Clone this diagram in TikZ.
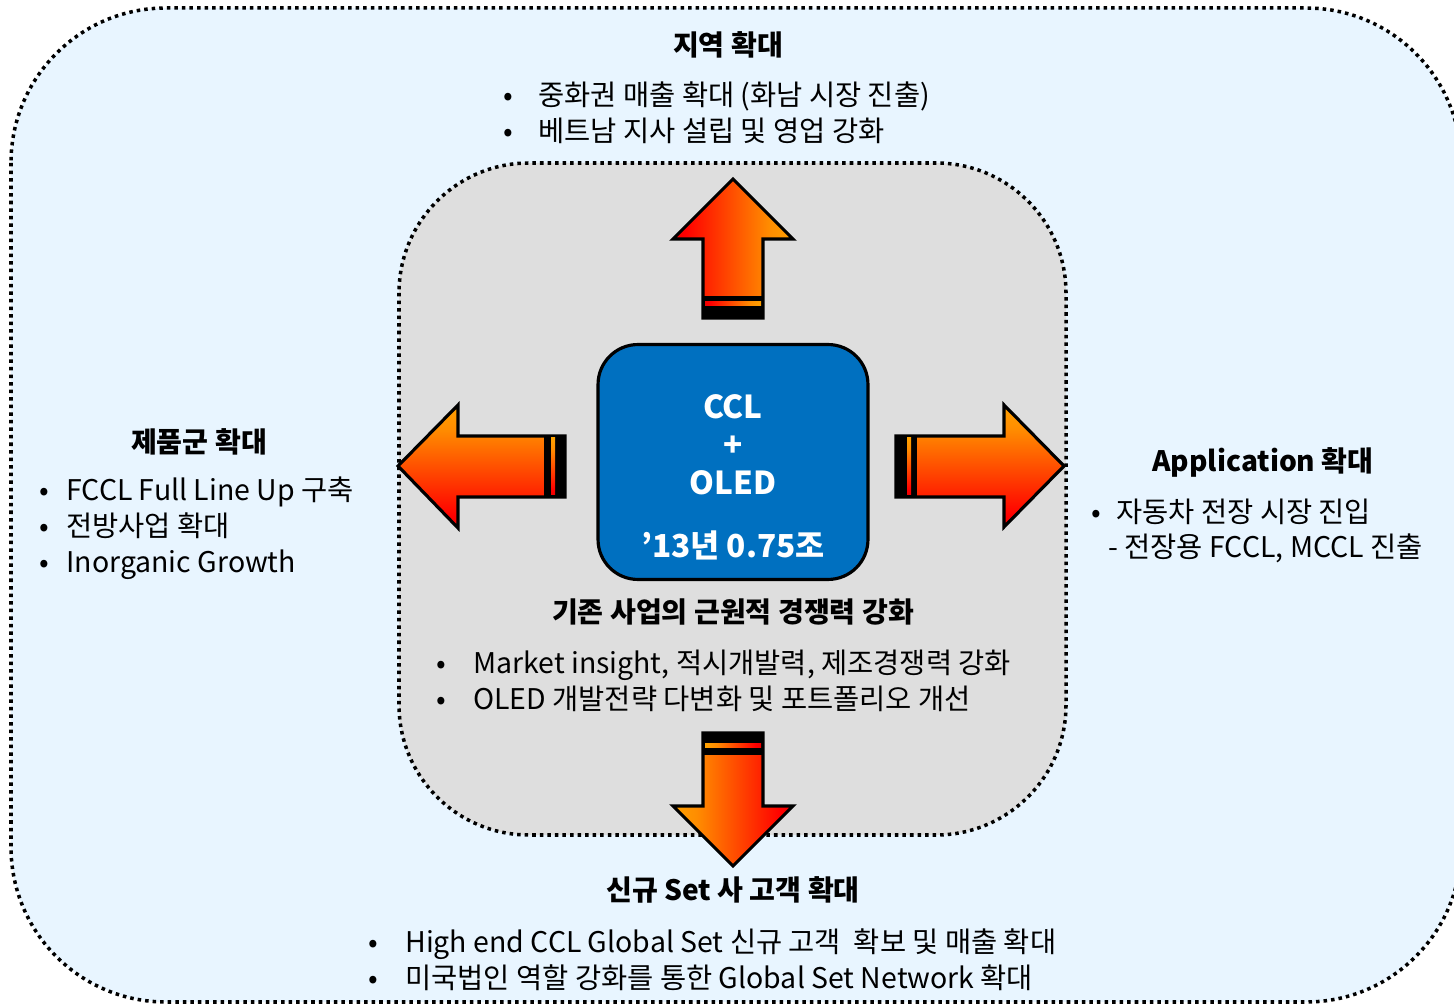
\documentclass[tikz,border=0pt]{standalone}
\usepackage{fontspec}
\setmainfont{Noto Sans CJK KR}
\usetikzlibrary{positioning}

\definecolor{outerfill}{HTML}{E8F5FF}
\definecolor{innerfill}{HTML}{DEDEDE}
\definecolor{coreblue}{HTML}{0070C0}
\definecolor{firedark}{HTML}{990000}
\definecolor{firered}{HTML}{FF0000}
\definecolor{fireorange}{HTML}{FF8C00}
\definecolor{fireyellow}{HTML}{FFD700}
\pgfdeclarehorizontalshading{fire}{100bp}{color(0bp)=(firedark); color(30bp)=(firered); color(65bp)=(fireorange); color(100bp)=(fireyellow)}

\newcommand{\itemline}[2]{\makebox[#1][l]{•}#2}

\begin{document}
\begin{tikzpicture} [
    x=0.02cm, y=-0.02cm,     % one unit = one pixel of the layout
    ]
% -------------------------------------------------
\tikzset{
  dotbox/.style={line width=2pt, dash pattern=on 2pt off 2.3pt},
  txt/.style={font=\fontsize{16.2}{20.4}\selectfont, inner sep=0pt},
  head/.style={txt, font=\fontsize{16}{20.4}\selectfont\bfseries},
  list/.style={txt, align=left, anchor=west},
  arrowbody/.style={shade, shading=fire, draw=black, line width=1.8pt, line join=miter},
  corebox/.style={draw=black, line width=1.8pt, fill=coreblue, rounded corners=0.8cm,
                  minimum width=5.4cm, minimum height=4.7cm},
  coretxt/.style={text=white, align=center, inner sep=0pt,
                  font=\fontsize{18}{21.5}\selectfont\bfseries}
}

    \useasboundingbox (0,0) rectangle (1454,1006);

    \draw[dotbox, fill=outerfill, rounded corners=3.1cm] (11,8) rectangle (1461,1002);   % outer region
    \draw[dotbox, fill=innerfill, rounded corners=2.6cm] (399,163) rectangle (1066,835);  % inner region

    % up arrow
    \path[arrowbody, shading angle=0] (733,179) -- (793,239) -- (763,239) -- (763,318)
        -- (703,318) -- (703,239) -- (673,239) -- cycle;
    \fill (703,296) rectangle (763,318);
    \shade[shading=fire, shading angle=0] (705,302) rectangle (761,306);

    % left arrow
    \path[arrowbody, shading angle=90] (398,466) -- (458,405) -- (458,436) -- (565,436)
        -- (565,497) -- (458,497) -- (458,528) -- cycle;
    \fill (544,436) rectangle (565,497);
    \shade[shading=fire, shading angle=90] (551,438) rectangle (555,495);

    % right arrow
    \path[arrowbody, shading angle=90] (1064,466) -- (1004,405) -- (1004,436) -- (896,436)
        -- (896,497) -- (1004,497) -- (1004,527) -- cycle;
    \fill (896,436) rectangle (917,497);
    \shade[shading=fire, shading angle=90] (907,438) rectangle (911,495);

    % down arrow
    \path[arrowbody, shading angle=180] (733,866) -- (793,806) -- (763,806) -- (763,733)
        -- (703,733) -- (703,806) -- (673,806) -- cycle;
    \fill (703,733) rectangle (763,755);
    \shade[shading=fire, shading angle=180] (705,743) rectangle (761,747);

    \node[corebox] (core) at (733,462) {};
    \node[coretxt] (coreA) at (733,445) {CCL\\+\\OLED};
    \node[coretxt] (coreB) at (733,545) {’13년 0.75조};

    \node[head] (regH) at (728,45) {지역 확대};
    \node[list] (regL) at (503,113) {\itemline{0.7cm}{중화권 매출 확대 (화남 시장 진출)}\\
                                      \itemline{0.7cm}{베트남 지사 설립 및 영업 강화}};

    \node[head] (prdH) at (199,442) {제품군 확대};
    \node[list] (prdL) at (39,528) {\itemline{0.54cm}{FCCL Full Line Up 구축}\\
                                     \itemline{0.54cm}{전방사업 확대}\\
                                     \itemline{0.54cm}{Inorganic Growth}};

    \node[head] (appH) at (1263,462) {Application 확대};
    \node[list] (appL) at (1091,531) {\itemline{0.5cm}{자동차 전장 시장 진입}\\
                                       \hspace{0.34cm}- 전장용 FCCL, MCCL 진출};

    \node[head] (baseH) at (733,612) {기존 사업의 근원적 경쟁력 강화};
    \node[list] (baseL) at (436,681) {\itemline{0.74cm}{Market insight, 적시개발력, 제조경쟁력 강화}\\
                                       \itemline{0.74cm}{OLED 개발전략 다변화 및 포트폴리오 개선}};

    \node[head] (setH) at (733,890) {신규 Set 사 고객 확대};
    \node[list] (setL) at (368,960) {\itemline{0.74cm}{High end CCL Global Set 신규 고객\ \ 확보 및 매출 확대}\\
                                      \itemline{0.74cm}{미국법인 역할 강화를 통한 Global Set Network 확대}};

\end{tikzpicture}
\end{document}
